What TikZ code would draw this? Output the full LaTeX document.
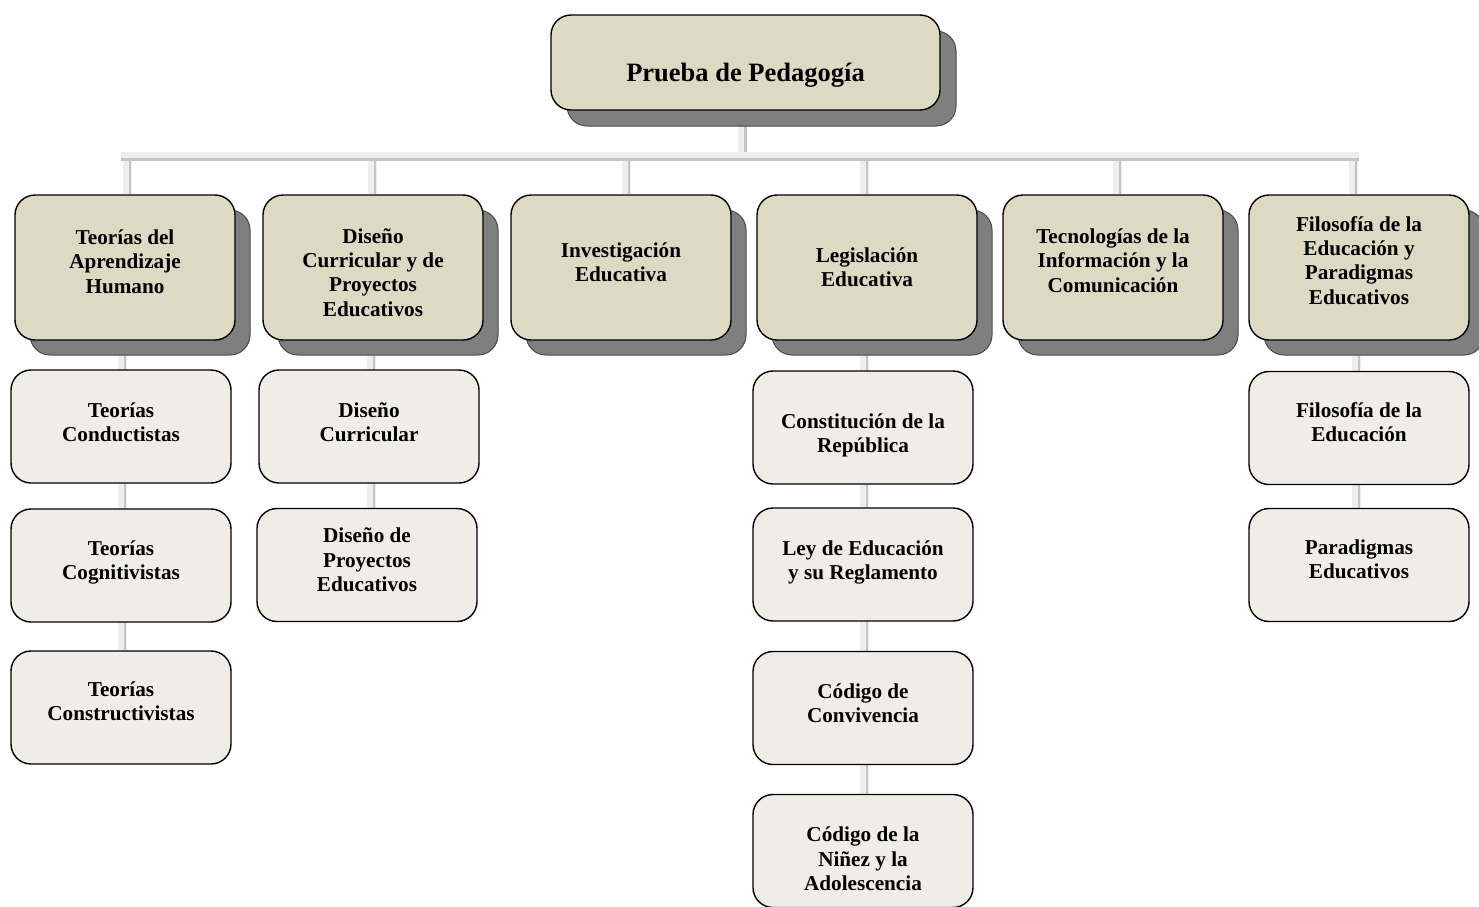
\documentclass[tikz,border=0pt]{standalone}
\usepackage{fontspec}
\setmainfont{Liberation Serif}
\usetikzlibrary{shadows,backgrounds}
\definecolor{lvone}{HTML}{DDD9C3}
\definecolor{lvtwo}{HTML}{EFEDE5}
\definecolor{shadowfill}{HTML}{7F7F7F}
\definecolor{shadowline}{HTML}{4A4A4A}
\definecolor{connlight}{HTML}{EEEEEE}
\definecolor{conndark}{HTML}{C4C4C4}
\tikzset{
  box/.style={draw=black, line width=1.4pt, rounded corners=20pt, inner sep=0pt},
  txt/.style={align=center, inner sep=0pt, font=\bfseries\fontsize{21.2}{24.3}\selectfont},
  roottxt/.style={txt, font=\bfseries\fontsize{26.5}{30}\selectfont},
  rootbox/.style={box, fill=lvone, minimum width=389pt, minimum height=95pt,
    drop shadow={shadow xshift=16pt, shadow yshift=-16pt, fill=shadowfill, draw=shadowline, line width=1pt, opacity=1}},
  topicbox/.style={box, fill=lvone, minimum width=220pt, minimum height=145pt,
    drop shadow={shadow xshift=15pt, shadow yshift=-15pt, fill=shadowfill, draw=shadowline, line width=1pt, opacity=1}},
  subbox/.style={box, fill=lvtwo, minimum width=220pt, minimum height=113pt},
  vconn/.style={draw=connlight, line width=9pt,
    postaction={draw=conndark, line width=2.5pt, transform canvas={xshift=3.2pt}}},
  hconn/.style={draw=connlight, line width=9pt,
    postaction={draw=conndark, line width=3pt, transform canvas={yshift=-3.2pt}}},
}
\begin{document}
\begin{tikzpicture}[x=1pt, y=-1pt]
\useasboundingbox (0,0) rectangle (1479,906);
% root
\node[rootbox] (root) at (745.5,62.5) {};
\node[roottxt] (rootl) at ([yshift=-13pt]root.center) {Prueba de Pedagogía};
% level 1
\node[topicbox] (t1) at (125,267.5) {};
\node[topicbox] (t2) at (373,267.5) {};
\node[topicbox] (t3) at (621,267.5) {};
\node[topicbox] (t4) at (867,267.5) {};
\node[topicbox] (t5) at (1113,267.5) {};
\node[topicbox] (t6) at (1359,267.5) {};
\node[txt] (t1l) at ([yshift=6pt]t1.center) {Teorías del\\Aprendizaje\\Humano};
\node[txt] (t2l) at ([yshift=-5pt]t2.center) {Diseño\\Curricular y de\\Proyectos\\Educativos};
\node[txt] (t3l) at ([yshift=5pt]t3.center) {Investigación\\Educativa};
\node[txt] (t4l) at (t4.center) {Legislación\\Educativa};
\node[txt] (t5l) at ([yshift=7pt]t5.center) {Tecnologías de la\\Información y la\\Comunicación};
\node[txt] (t6l) at ([yshift=7pt]t6.center) {Filosofía de la\\Educación y\\Paradigmas\\Educativos};
% level 2, column 1
\node[subbox] (a1) at (121,426.5) {};
\node[subbox] (a2) at (121,565.5) {};
\node[subbox] (a3) at (121,707.5) {};
\node[txt] (a1l) at ([yshift=4pt]a1.center) {Teorías\\Conductistas};
\node[txt] (a2l) at ([yshift=3pt]a2.center) {Teorías\\Cognitivistas};
\node[txt] (a3l) at ([yshift=6pt]a3.center) {Teorías\\Constructivistas};
% column 2
\node[subbox] (b1) at (369,426.5) {};
\node[subbox] (b2) at (367,565) {};
\node[txt] (b1l) at ([yshift=4pt]b1.center) {Diseño\\Curricular};
\node[txt] (b2l) at ([yshift=5pt]b2.center) {Diseño de\\Proyectos\\Educativos};
% column 4
\node[subbox] (d1) at (863,427.5) {};
\node[subbox] (d2) at (863,564.5) {};
\node[subbox] (d3) at (863,708) {};
\node[subbox] (d4) at (863,851) {};
\node[txt] (d1l) at ([yshift=-8pt]d1.center) {Constitución de la\\República};
\node[txt] (d2l) at ([yshift=2pt]d2.center) {Ley de Educación\\y su Reglamento};
\node[txt] (d3l) at ([yshift=5pt]d3.center) {Código de\\Convivencia};
\node[txt] (d4l) at ([yshift=-8pt]d4.center) {Código de la\\Niñez y la\\Adolescencia};
% column 6
\node[subbox] (f1) at (1359,428) {};
\node[subbox] (f2) at (1359,565) {};
\node[txt] (f1l) at ([yshift=6pt]f1.center) {Filosofía de la\\Educación};
\node[txt] (f2l) at ([yshift=6pt]f2.center) {Paradigmas\\Educativos};
% bar coordinates
\coordinate (barL) at (123,156);
\coordinate (barR) at (1357,156);
\begin{scope}[on background layer]
  \draw[vconn] ([xshift=-3pt]root.center) -- ([xshift=-3pt]root.center |- barL);
  \draw[vconn] ([xshift=2pt]t1.north) -- ([xshift=2pt]t1.north |- barL);
  \draw[vconn] ([xshift=-1pt]t2.north) -- ([xshift=-1pt]t2.north |- barL);
  \draw[vconn] ([xshift=5pt]t3.north) -- ([xshift=5pt]t3.north |- barL);
  \draw[vconn] ([xshift=-3pt]t4.north) -- ([xshift=-3pt]t4.north |- barL);
  \draw[vconn] ([xshift=4pt]t5.north) -- ([xshift=4pt]t5.north |- barL);
  \draw[vconn] ([xshift=-6pt]t6.north) -- ([xshift=-6pt]t6.north |- barL);
  \draw[hconn] ([xshift=-2pt]barL) -- ([xshift=2pt]barR);
  % child chains
  \draw[vconn] ([xshift=-3pt]t1.center) -- ([xshift=1pt]a3.north);
  \draw[vconn] ([xshift=-2pt]t2.center) -- ([xshift=4pt]b2.north);
  \draw[vconn] ([xshift=-3pt]t4.center) -- ([xshift=1pt]d4.north);
  \draw[vconn] ([xshift=-3pt]t6.center) -- ([xshift=-3pt]f2.north);
\end{scope}
\end{tikzpicture}
\end{document}
